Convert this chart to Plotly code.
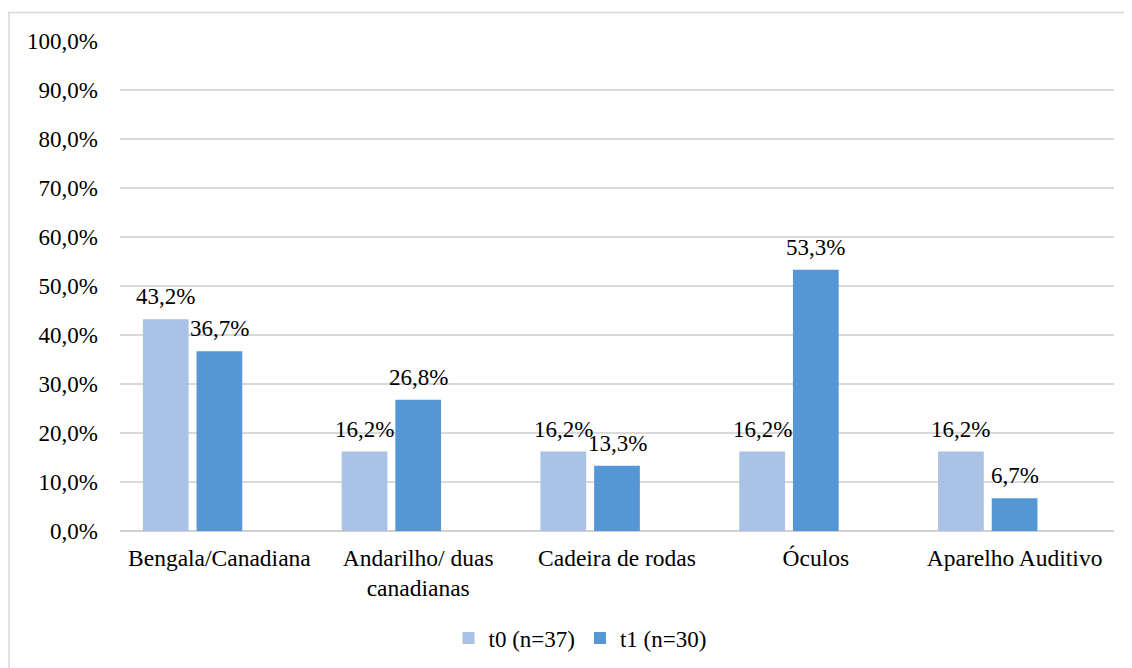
import plotly.graph_objects as go

categories = ["Bengala/Canadiana", "Andarilho/ duas<br>canadianas", "Cadeira de rodas", "Óculos", "Aparelho Auditivo"]
t0_values = [43.2, 16.2, 16.2, 16.2, 16.2]
t1_values = [36.7, 26.8, 13.3, 53.3, 6.7]
series_names = ["t0 (n=37)", "t1 (n=30)"]
y_ticks = [0, 10, 20, 30, 40, 50, 60, 70, 80, 90, 100]

FONT = "Liberation Serif, Times New Roman, serif"
W = 0.23
OFFSETS = [-0.385, -0.115]
COLORS = ["#a9c2e5", "#5597d5"]

# page has an 8px body margin; compensate so the plot sits where the reference has it
L, T, R, B = 112, 33, 26, 145
PW = 1132 - L - R
PH = 668 - T - B

xs = list(range(len(categories)))
fig = go.Figure()
for name, vals, off, col in zip(series_names, [t0_values, t1_values], OFFSETS, COLORS):
    fig.add_trace(go.Bar(
        x=xs, y=vals, name=name, width=W, offset=off,
        marker=dict(color=col, line=dict(width=0)),
    ))
    for xi, v in zip(xs, vals):
        fig.add_annotation(
            x=xi + off + W / 2, y=v, xref="x", yref="y",
            text=f"{v:.1f}%".replace(".", ","), showarrow=False,
            yanchor="bottom", yshift=8,
            font=dict(family=FONT, size=23, color="#000000"),
        )

# outer chart border
fig.add_shape(type="rect", xref="paper", yref="paper",
              x0=(1 - L) / PW, x1=1.2, y0=-0.4, y1=(PH + T - 4.5) / PH,
              line=dict(color="#d9d9d9", width=1.5), fillcolor="rgba(0,0,0,0)", layer="below")

fig.update_layout(
    width=1132, height=668,
    margin=dict(l=L, r=R, t=T, b=B, autoexpand=False),
    paper_bgcolor="#ffffff", plot_bgcolor="#ffffff",
    font=dict(family=FONT, size=23, color="#000000"),
    barmode="overlay",
    showlegend=True,
    legend=dict(orientation="h", x=(572 - L) / PW, xanchor="center",
                y=-(630 - (T + PH)) / PH, yanchor="middle",
                font=dict(family=FONT, size=23, color="#000000"), itemwidth=30,
                tracegroupgap=0),
    xaxis=dict(
        tickmode="array", tickvals=xs, ticktext=categories,
        range=[-0.5, len(categories) - 0.5], automargin=False,
        showgrid=False, zeroline=False, showline=False,
        ticks="", ticklabelstandoff=10,
        tickfont=dict(family=FONT, size=23.5, color="#000000"),
    ),
    yaxis=dict(
        range=[0, 100], tickmode="array", tickvals=y_ticks,
        ticktext=[f"{v:.1f}%".replace(".", ",") for v in y_ticks],
        showgrid=True, gridcolor="#d9d9d9", gridwidth=1.5, automargin=False,
        zeroline=True, zerolinecolor="#d0d0d0", zerolinewidth=2,
        showline=False, ticks="", ticklabelstandoff=21,
        tickfont=dict(family=FONT, size=23, color="#000000"),
    ),
)

fig.write_html("out.html")
